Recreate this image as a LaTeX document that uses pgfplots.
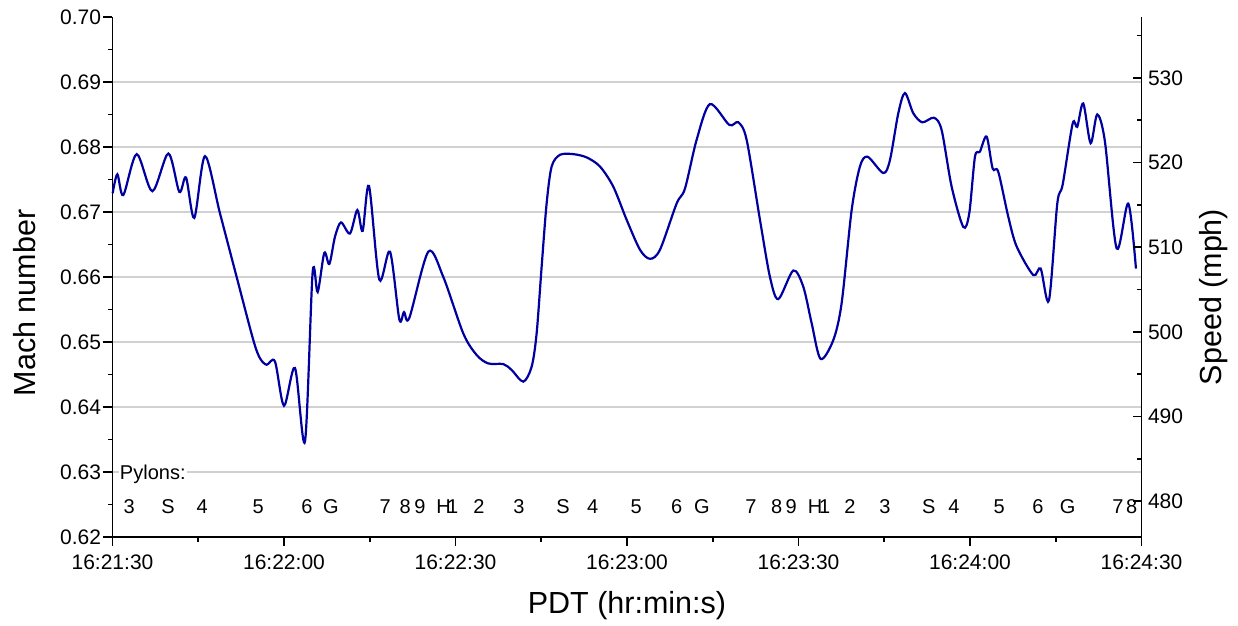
\documentclass[border=0pt]{standalone}
\usepackage{fontspec}
\setmainfont{Liberation Sans}
\usepackage{pgfplots}
\pgfplotsset{compat=1.18}
\definecolor{machblue}{RGB}{0,0,160}
\newcommand{\tickfont}{\fontsize{21}{24}\selectfont}
\newcommand{\labfont}{\fontsize{30.5}{34}\selectfont}
\newcommand{\pylfont}{\fontsize{20}{24}\selectfont}
\newcommand{\pyl}[2]{\node[anchor=base, font=\pylfont, inner sep=0pt] at (axis cs:#1,0.62354) {#2};}
\begin{document}
\begin{tikzpicture}
\begin{axis}[
  at={(0,0)}, anchor=south west,
  scale only axis, width=1029pt, height=520pt,
  xmin=0, xmax=180, ymin=0.62, ymax=0.70,
  axis x line*=bottom, axis y line*=left,
  axis line style={-, line width=1.7pt, black},
  every tick/.style={black, line width=1.7pt},
  major tick length=9pt, minor tick length=4.5pt,
  tick align=outside,
  xtick={0,30,60,90,120,150,180},
  xticklabels={16:21:30,16:22:00,16:22:30,16:23:00,16:23:30,16:24:00,16:24:30},
  minor xtick={15,45,75,105,135,165},
  ytick={0.63,0.64,0.65,0.66,0.67,0.68,0.69},
  yticklabels={0.63,0.64,0.65,0.66,0.67,0.68,0.69},
  extra y ticks={0.62,0.70},
  extra y tick labels={0.62,0.70},
  extra y tick style={grid=none},
  minor ytick={0.625,0.635,0.645,0.655,0.665,0.675,0.685,0.695},
  ymajorgrids,
  grid style={black!18, line width=1.2pt},
  ticklabel style={font=\tickfont},
  xticklabel style={yshift=-5pt},
  yticklabel style={xshift=1pt},
  xlabel={PDT (hr:min:s)},
  ylabel={Mach number},
  every axis x label/.style={at={(axis description cs:0.5,0)}, yshift=-76pt, anchor=base, font=\labfont},
  every axis y label/.style={at={(axis description cs:-0.0753,0.45)}, rotate=90, anchor=base, font=\labfont},
  clip=false,
]
\addplot[machblue, line width=2.2pt, smooth, tension=0.5] coordinates {
(0.03,0.6729) (0.85,0.6758) (1.89,0.6726) (4.23,0.6789) (6.97,0.6732)
(9.77,0.6790) (11.69,0.6731) (12.86,0.6753) (14.31,0.6691) (16.18,0.6786)
(18.80,0.6698) (21.72,0.6600) (24.63,0.6503) (25.80,0.6475) (26.97,0.6465)
(28.42,0.6470) (30.00,0.6402) (31.92,0.6460) (33.67,0.6347) (35.01,0.6607)
(35.89,0.6577) (37.05,0.6637) (37.93,0.6620) (38.92,0.6662) (39.97,0.6684)
(41.54,0.6667) (42.83,0.6703) (43.76,0.6671) (44.87,0.6740) (46.67,0.6596)
(48.54,0.6639) (50.17,0.6535) (50.99,0.6546) (51.92,0.6537) (55.25,0.6639)
(57.87,0.6600) (61.37,0.6513) (63.70,0.6480) (65.74,0.6467) (68.37,0.6466)
(69.82,0.6457) (71.86,0.6439) (73.32,0.6462) (74.19,0.6513) (75.07,0.6616)
(75.94,0.6713) (76.82,0.6770) (78.28,0.6788) (80.61,0.6789) (82.94,0.6784)
(85.27,0.6770) (87.60,0.6739) (89.94,0.6688) (92.27,0.6642) (94.02,0.6628)
(95.77,0.6642) (98.68,0.6713) (100.14,0.6736) (102.18,0.6811) (104.51,0.6866)
(107.89,0.6834) (109.47,0.6838) (110.93,0.6811) (113.26,0.6688) (115.01,0.6600)
(116.47,0.6566) (119.09,0.6610) (120.84,0.6585) (122.30,0.6529) (123.87,0.6474)
(126.09,0.6503) (127.55,0.6560) (129.30,0.6703) (130.75,0.6770) (132.09,0.6785)
(134.83,0.6760) (136.00,0.6780) (137.46,0.6852) (138.62,0.6883) (140.08,0.6852)
(141.66,0.6838) (143.70,0.6845) (145.04,0.6826) (146.79,0.6739) (148.83,0.6677)
(149.87,0.6698) (150.87,0.6785) (151.74,0.6793) (152.91,0.6816) (153.96,0.6767)
(154.94,0.6762) (156.69,0.6693) (158.16,0.6647) (161.07,0.6603) (162.36,0.6613)
(163.81,0.6564) (165.27,0.6713) (166.21,0.6742) (167.96,0.6836) (168.76,0.6831)
(169.81,0.6867) (171.10,0.6806) (172.26,0.6850) (173.61,0.6808) (175.65,0.6644)
(177.69,0.6713) (179.03,0.6613)
};
\node[anchor=base west, font=\pylfont, fill=white, inner sep=1pt] at (axis cs:1.1,0.62888) {Pylons:};
\pyl{2.9}{3}\pyl{9.7}{S}\pyl{15.7}{4}\pyl{25.5}{5}\pyl{34.0}{6}\pyl{38.2}{G}
\pyl{47.7}{7}\pyl{51.2}{8}\pyl{53.8}{9}\pyl{57.9}{H}\pyl{59.5}{1}\pyl{64.1}{2}
\pyl{71.1}{3}\pyl{78.8}{S}\pyl{84.0}{4}\pyl{91.6}{5}\pyl{98.7}{6}\pyl{103.1}{G}
\pyl{111.7}{7}\pyl{116.2}{8}\pyl{118.7}{9}\pyl{122.9}{H}\pyl{124.6}{1}\pyl{129.0}{2}
\pyl{135.1}{3}\pyl{142.8}{S}\pyl{147.2}{4}\pyl{155.1}{5}\pyl{161.9}{6}\pyl{167.1}{G}
\pyl{175.9}{7}\pyl{178.3}{8}
\end{axis}
\begin{axis}[
  at={(0,0)}, anchor=south west,
  scale only axis, width=1029pt, height=520pt,
  xmin=0, xmax=180, ymin=475.788, ymax=537.18,
  axis x line=none, axis y line*=right,
  axis line style={-, line width=1.7pt, black},
  every tick/.style={black, line width=1.7pt},
  major tick length=9pt, minor tick length=4.5pt,
  tick align=inside,
  ytick={480,490,500,510,520,530},
  yticklabels={480,490,500,510,520,530},
  minor ytick={485,495,505,515,525,535},
  ticklabel style={font=\tickfont},
  yticklabel style={xshift=3pt},
  ylabel={Speed (mph)},
  every axis y label/.style={at={(axis description cs:1.078,0.4615)}, rotate=90, anchor=base, font=\labfont},
]
\end{axis}
\pgfresetboundingbox
\path[use as bounding box] (-112.5pt,-88pt) rectangle (1125.5pt,537pt);
\end{tikzpicture}
\end{document}
